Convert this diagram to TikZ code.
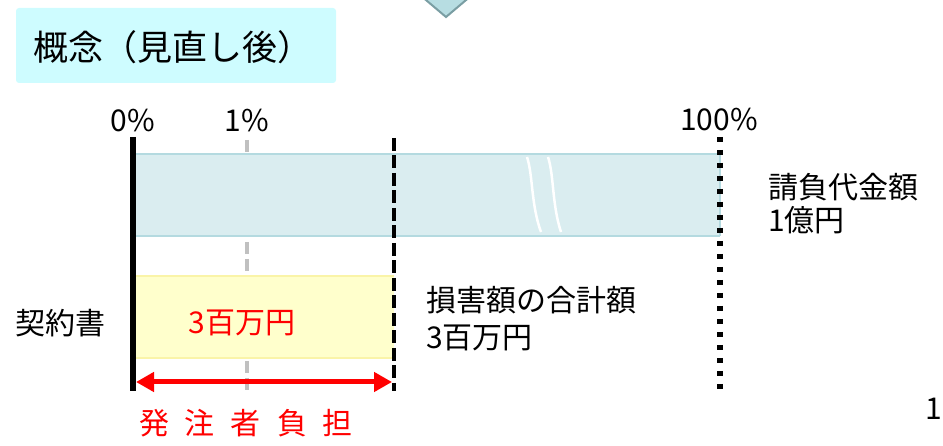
\documentclass[tikz,border=0pt]{standalone}
\usepackage{fontspec}
\setmainfont{Noto Sans CJK JP}
\usetikzlibrary{arrows.meta}
\definecolor{trifill}{RGB}{183,221,226}
\definecolor{triline}{RGB}{122,158,163}
\definecolor{titlebg}{RGB}{206,252,255}
\definecolor{bandblue}{RGB}{218,237,240}
\definecolor{bandblueline}{RGB}{180,218,224}
\definecolor{bandyellow}{RGB}{255,255,204}
\definecolor{bandyellowline}{RGB}{250,244,168}
\definecolor{grayline}{RGB}{192,192,192}
\definecolor{redtext}{RGB}{255,0,0}
\tikzset{
  lbl/.style={inner sep=0pt, font=\fontsize{30pt}{34pt}\selectfont, text=black},
  redlbl/.style={lbl, text=redtext},
  titlelbl/.style={inner sep=0pt, font=\fontsize{35pt}{40pt}\selectfont},
  graydash/.style={draw=grayline, line width=4pt, dash pattern=on 12pt off 5pt},
  blackdash/.style={draw=black, line width=4pt, dash pattern=on 13pt off 4.5pt},
  blackdot/.style={draw=black, line width=5.5pt, dash pattern=on 5.5pt off 7.5pt},
  breakline/.style={draw=white, line width=2.5pt},
  redarrow/.style={draw=redtext, line width=5pt, {Triangle[length=18pt,width=19pt]}-{Triangle[length=18pt,width=19pt]}}
}
\begin{document}
\begin{tikzpicture}[x=1pt,y=-1pt]
\useasboundingbox (0,0) rectangle (943,446);
\clip (0,0) rectangle (943,446);

% top arrow triangle
\filldraw[fill=trifill, draw=triline, line width=2pt] (420,-5) -- (446,17) -- (472,-5) -- cycle;

% title box
\fill[titlebg, rounded corners=3pt] (16,8) rectangle (336,83);
\node[titlelbl] (title) at (173,47) {概念（見直し後）};

% coordinates for the vertical markers
\coordinate (z0top) at (133,137);
\coordinate (z0bot) at (133,391);
\coordinate (p1top) at (247,140);
\coordinate (p1bot) at (247,391);
\coordinate (dmtop) at (394,138);
\coordinate (dmbot) at (394,391);
\coordinate (h100top) at (720,137);
\coordinate (h100bot) at (720,391);

% gray 1% dashed line (behind bands)
\draw[graydash] (p1top) -- (p1bot);

% blue band
\fill[bandblue] (133,153) rectangle (720,237);
\draw[bandblueline, line width=2pt] (133,154) -- (720,154);
\draw[bandblueline, line width=2pt] (133,236) -- (720,236);
\draw[bandblueline, line width=2pt] (720,154) -- (720,236);
% break marks
\draw[breakline] (527,157) .. controls (533,175) and (531,205) .. (541,232);
\draw[breakline] (548,157) .. controls (554,175) and (552,205) .. (561,232);

% yellow band
\fill[bandyellow] (133,275) rectangle (394,359);
\draw[bandyellowline, line width=2pt] (133,276) -- (394,276);
\draw[bandyellowline, line width=2pt] (133,358) -- (394,358);

% vertical markers
\draw[black, line width=6pt] (z0top) -- (z0bot);
\draw[blackdash] (dmtop) -- (dmbot);
\draw[blackdot] (h100top) -- (h100bot);

% red double arrow
\coordinate (aL) at (136,382);
\coordinate (aR) at (392,382);
\draw[redarrow] (aL) -- (aR);

% axis labels
\node[lbl] (l0) at (133,121) {0\%};
\node[lbl] (l1) at (247,121) {1\%};
\node[lbl] (l100) at (719,120) {100\%};

% texts
\node[lbl, anchor=west] (contract) at (15,323) {契約書};
\node[redlbl] (amt) at (242,323) {3百万円};
\node[redlbl] (burden) at (246,423) {発\hspace{16pt}注\hspace{16pt}者\hspace{16pt}負\hspace{16pt}担};
\node[lbl, anchor=west] (dmg1) at (426,300) {損害額の合計額};
\node[lbl, anchor=west] (dmg2) at (426,338) {3百万円};
\node[lbl, anchor=west] (price1) at (768,187) {請負代金額};
\node[lbl, anchor=west] (price2) at (768,220) {1億円};
\node[lbl, anchor=east] (page) at (942,409) {1};
\end{tikzpicture}
\end{document}
